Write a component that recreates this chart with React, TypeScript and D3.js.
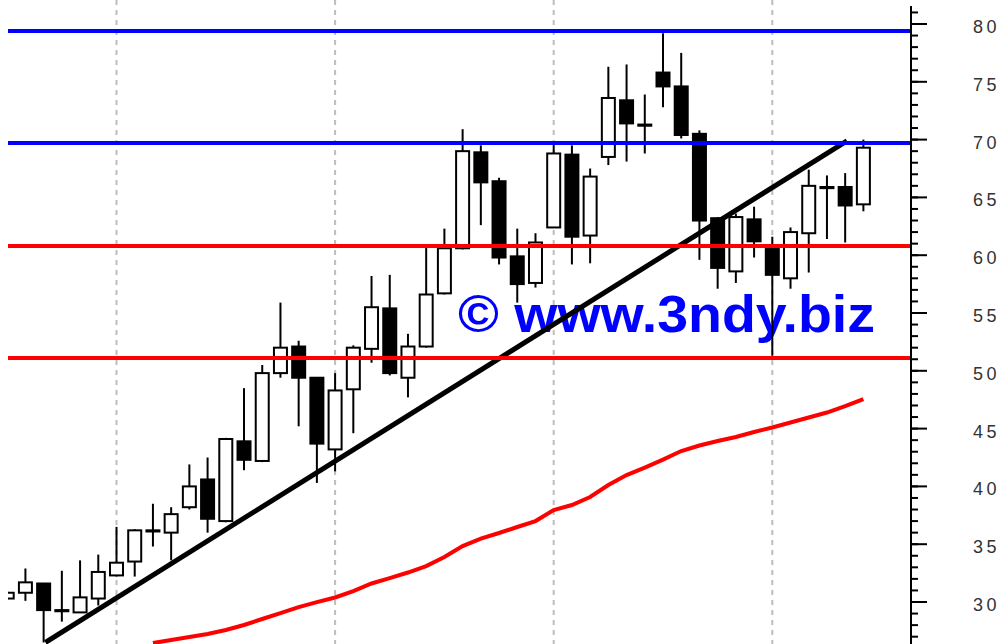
import React from 'react'
import * as d3 from 'd3'

// bar -1 is the partly hidden one at the left edge
const firstBar = -1
const opens = [30.3, 30.8, 31.6, 29.3, 29.1, 30.3, 32.3, 33.5, 36.1, 36.0, 38.2, 40.6, 37.0, 43.9, 42.2, 49.8, 52.1, 49.4, 43.2, 48.4, 51.9, 55.4, 49.4, 52.1, 56.7, 60.6, 68.9, 66.4, 59.9, 57.6, 62.4, 68.7, 61.7, 68.5, 73.4, 71.3, 75.8, 74.6, 70.5, 63.2, 58.6, 63.1, 60.6, 58.0, 61.9, 65.9, 65.9, 64.4]
const highs = [30.9, 32.9, 31.6, 32.7, 33.6, 34.1, 36.5, 36.3, 38.5, 38.2, 41.9, 42.5, 44.2, 48.5, 50.5, 55.9, 52.6, 49.4, 49.8, 52.2, 58.2, 58.3, 53.2, 60.7, 62.3, 70.9, 69.5, 66.7, 62.3, 61.9, 69.7, 69.5, 67.5, 76.3, 76.5, 73.9, 79.2, 77.5, 70.8, 63.3, 63.6, 64.2, 61.6, 62.4, 67.4, 66.9, 67.1, 70.0]
const lows = [30.2, 30.1, 26.5, 28.3, 29.1, 29.7, 32.2, 32.2, 34.8, 33.6, 38.0, 36.0, 36.9, 41.4, 42.1, 49.4, 45.2, 40.3, 41.3, 44.6, 50.7, 49.6, 47.7, 52.0, 56.6, 60.5, 62.6, 59.2, 55.9, 57.2, 62.4, 59.2, 59.3, 67.8, 68.1, 68.8, 72.8, 70.1, 59.6, 57.1, 57.6, 59.8, 51.3, 57.1, 58.5, 61.4, 61.1, 63.8]
const closes = [30.8, 31.7, 29.3, 29.2, 30.4, 32.6, 33.4, 36.2, 36.2, 37.6, 40.0, 37.2, 44.1, 42.3, 49.8, 52.0, 49.4, 43.7, 48.3, 52.0, 55.5, 49.8, 52.1, 56.6, 60.6, 69.0, 66.3, 59.8, 57.5, 61.1, 68.8, 61.6, 66.8, 73.6, 71.4, 71.2, 74.6, 70.4, 63.0, 58.9, 63.3, 61.2, 58.3, 62.0, 66.0, 65.8, 64.3, 69.3]

// moving average, starting at bar 7
const maStart = 7
const maValues = [26.45, 26.71, 26.97, 27.23, 27.58, 28.01, 28.53, 29.04, 29.56, 29.99, 30.39, 30.95, 31.6, 32.07, 32.55, 33.11, 33.89, 34.84, 35.49, 35.97, 36.49, 37.0, 37.95, 38.39, 39.08, 40.12, 40.98, 41.63, 42.32, 43.06, 43.54, 43.93, 44.27, 44.71, 45.1, 45.53, 45.96, 46.39, 46.95, 47.55]

const trendBars = [1.1, 45.1]
const trendPrices = [26.5, 69.9]

const blueLevels = [79.4, 69.7]
const redLevels = [60.8, 51.1]

const gridBars = [5, 17, 29, 41]
const majorTicks = [30, 35, 40, 45, 50, 55, 60, 65, 70, 75, 80]
const minorTicks = d3.range(27, 82)

const W = 1001
const H = 644
const left = 8
const axisX = 911

export default function App() {
  const x = d3.scaleLinear().domain([5, 41]).range([116.5, 772.3])
  const y = d3.scaleLinear().domain([30, 80]).range([602, 24])

  const candles = opens.map((o, i) => ({
    bar: firstBar + i, o, h: highs[i], l: lows[i], c: closes[i],
  }))

  const maLine = d3.line<number>()
    .x((_, i) => x(maStart + i))
    .y((d) => y(d))

  const bodyW = 13

  return (
    <svg width={W} height={H} style={{ position: 'absolute', left: 0, top: 0, background: '#fff' }}>
      <defs>
        <clipPath id="plot">
          <rect x={left} y={0} width={axisX - left} height={H} />
        </clipPath>
      </defs>
      <g clipPath="url(#plot)">
        {gridBars.map((b) => (
          <line key={b} x1={x(b)} x2={x(b)} y1={0} y2={H}
            stroke="#bdbdbd" strokeWidth={2} strokeDasharray="5,5" />
        ))}
        <text x={458} y={332} fontFamily="'Liberation Sans', Arial, sans-serif" fontWeight="bold"
          fontSize={52} fill="#0000ff" textLength={417} lengthAdjust="spacingAndGlyphs">
          © www.3ndy.biz
        </text>
        {candles.map((d) => {
          const cx = x(d.bar)
          const top = y(Math.max(d.o, d.c))
          const hgt = Math.max(Math.abs(y(d.o) - y(d.c)), 0.5)
          return (
            <g key={d.bar}>
              <line x1={cx} x2={cx} y1={y(d.h)} y2={y(d.l)} stroke="#000" strokeWidth={2} />
              <rect x={cx - bodyW / 2} y={top} width={bodyW} height={hgt}
                fill={d.c >= d.o ? '#fff' : '#000'} stroke="#000" strokeWidth={2} />
            </g>
          )
        })}
        <path d={maLine(maValues) ?? ''} fill="none" stroke="#ff0000" strokeWidth={4} />
        <line x1={x(trendBars[0])} y1={y(trendPrices[0])} x2={x(trendBars[1])} y2={y(trendPrices[1])}
          stroke="#000" strokeWidth={5} />
        {blueLevels.map((v) => (
          <line key={`b${v}`} x1={left} x2={axisX} y1={y(v)} y2={y(v)} stroke="#0000ff" strokeWidth={4} />
        ))}
        {redLevels.map((v) => (
          <line key={`r${v}`} x1={left} x2={axisX} y1={y(v)} y2={y(v)} stroke="#ff0000" strokeWidth={4} />
        ))}
      </g>
      {/* price axis */}
      <line x1={axisX} x2={axisX} y1={6} y2={H} stroke="#000" strokeWidth={2} />
      {minorTicks.map((t) => (
        <line key={`m${t}`} x1={axisX} x2={axisX + 7} y1={y(t)} y2={y(t)} stroke="#000" strokeWidth={2} />
      ))}
      {majorTicks.map((t) => (
        <g key={`t${t}`}>
          <line x1={axisX} x2={axisX + 16} y1={y(t)} y2={y(t)} stroke="#000" strokeWidth={2} />
          <text x={973} y={y(t) + 9} fontFamily="'Liberation Sans', Arial, sans-serif" fontSize={18}
            letterSpacing={3.5} fill="#333">{t}</text>
        </g>
      ))}
    </svg>
  )
}
